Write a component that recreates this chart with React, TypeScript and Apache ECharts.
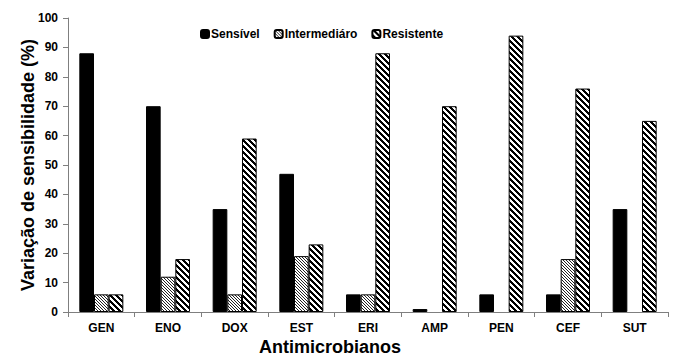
import React, { useEffect, useRef } from "react";
import * as echarts from "echarts";

const categories = ["GEN", "ENO", "DOX", "EST", "ERI", "AMP", "PEN", "CEF", "SUT"];
const sensivel = [88, 70, 35, 47, 6, 1, 6, 6, 35];
const intermediario = [6, 12, 6, 19, 6, 0, 0, 18, 0];
const resistente = [6, 18, 59, 23, 88, 70, 94, 76, 65];
const yTicks = [0, 10, 20, 30, 40, 50, 60, 70, 80, 90, 100];

function makeHatch(size: number, width: number, ink: string) {
  const c = document.createElement("canvas");
  c.width = size;
  c.height = size;
  const ctx = c.getContext("2d")!;
  ctx.fillStyle = "#ffffff";
  ctx.fillRect(0, 0, size, size);
  ctx.fillStyle = ink;
  for (let y = 0; y < size; y++) {
    for (let x = 0; x < size; x++) {
      const d = (((x - y) % size) + size) % size;
      if (d < width) ctx.fillRect(x, y, 1, 1);
    }
  }
  return c;
}

export default function App() {
  const ref = useRef<HTMLDivElement>(null);
  useEffect(() => {
    if (!ref.current) return;
    const chart = echarts.init(ref.current, null, { renderer: "svg" });
    const fine = makeHatch(3, 1, "#222222");
    const wide = makeHatch(6, 3, "#000000");
    const font = "'Liberation Sans', Arial, sans-serif";
    const bar = (name: string, data: number[], color: any) => ({
      name,
      type: "bar",
      data: data.map((v) => (v === 0 ? null : v)),
      barGap: "0%",
      barCategoryGap: "34%",
      itemStyle: { color, borderColor: "#000", borderWidth: 1 },
    });
    chart.setOption({
      animation: false,
      backgroundColor: "#ffffff",
      textStyle: { fontFamily: font },
      grid: { left: 68, right: 10, top: 18, bottom: 44, outerBoundsMode: "none", containLabel: false },
      legend: {
        left: 195,
        top: 23,
        itemWidth: 8,
        itemHeight: 8,
        itemGap: 14,
        textStyle: { fontFamily: font, fontWeight: "bold", fontSize: 12, color: "#000", padding: [0, 0, 0, -3] },
        data: ["Sensível", "Intermediáro", "Resistente"],
      },
      xAxis: {
        type: "category",
        data: categories,
        name: "Antimicrobianos",
        nameLocation: "middle",
        nameGap: 26,
        nameMoveOverlap: false,
        nameTextStyle: { fontFamily: font, fontWeight: "bold", fontSize: 18, color: "#000", padding: [0, 76, 0, 0] },
        axisLine: { lineStyle: { color: "#7f7f7f" } },
        axisTick: { show: true, length: 5, lineStyle: { color: "#7f7f7f" } },
        axisLabel: { fontFamily: font, fontWeight: "bold", fontSize: 12, color: "#000", margin: 10 },
      },
      yAxis: {
        type: "value",
        min: 0,
        max: 100,
        interval: 10,
        name: "Variação de sensibilidade (%)",
        nameLocation: "middle",
        nameGap: 31,
        nameMoveOverlap: false,
        nameTextStyle: { fontFamily: font, fontWeight: "bold", fontSize: 18, color: "#000" },
        axisLine: { show: true, lineStyle: { color: "#7f7f7f" } },
        axisTick: { show: true, length: 5, lineStyle: { color: "#7f7f7f" } },
        splitLine: { show: false },
        axisLabel: {
          fontFamily: font,
          fontWeight: "bold",
          fontSize: 12,
          color: "#000",
          margin: 10,
          formatter: (v: number) => (yTicks.includes(v) ? String(v) : ""),
        },
      },
      series: [
        bar("Sensível", sensivel, "#000000"),
        bar("Intermediáro", intermediario, { image: fine, repeat: "repeat", imageWidth: 3, imageHeight: 3 }),
        bar("Resistente", resistente, { image: wide, repeat: "repeat", imageWidth: 6, imageHeight: 6 }),
      ],
    });
    return () => chart.dispose();
  }, []);
  return <div ref={ref} style={{ width: 678, height: 356, position: "absolute", left: 0, top: 0 }} />;
}
